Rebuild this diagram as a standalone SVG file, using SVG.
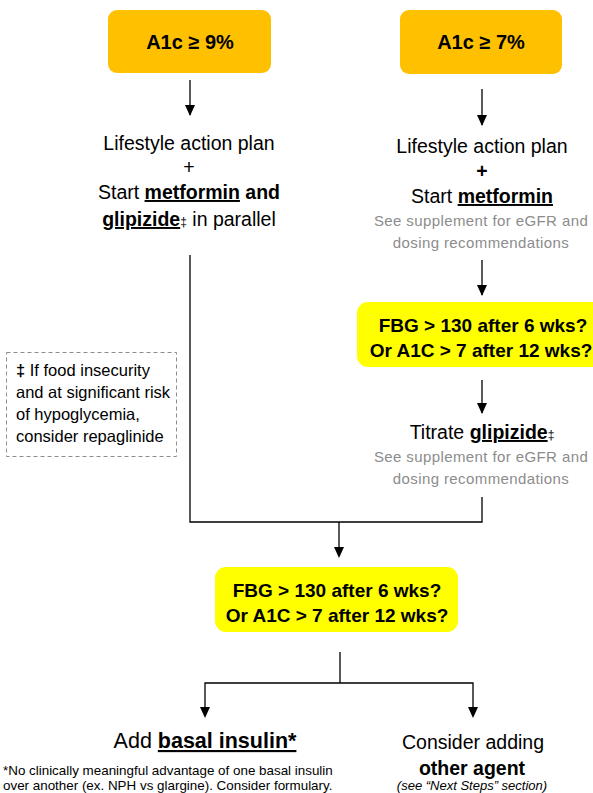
<svg xmlns="http://www.w3.org/2000/svg" width="593" height="793" viewBox="0 0 593 793">
<style>
text{font-family:"Liberation Sans",Arial,sans-serif;fill:#000}
.m{font-size:19.5px;text-anchor:middle}
.b{font-weight:bold}
.u{text-decoration:underline}
.g{font-size:15px;fill:#8c8c8c;text-anchor:middle;letter-spacing:0.4px}
.q{font-size:19px;font-weight:bold;text-anchor:middle}
.c{stroke:#000;stroke-width:1.3;fill:none}
.t{font-size:16.5px}
.n{font-size:13.4px}
</style>
<rect width="593" height="793" fill="#fff"/>
<g id="connectors">
<line class="c" x1="190" y1="80" x2="190" y2="115"/>
<path d="M185,105 L195,105 L190,116 Z"/>
<line class="c" x1="482" y1="89" x2="482" y2="125"/>
<path d="M477,115 L487,115 L482,126 Z"/>
<line class="c" x1="482" y1="260" x2="482" y2="295"/>
<path d="M477,285 L487,285 L482,296 Z"/>
<line class="c" x1="482" y1="380" x2="482" y2="413"/>
<path d="M477,403 L487,403 L482,414 Z"/>
<polyline class="c" points="190,255 190,522 482,522 482,497"/>
<line class="c" x1="339" y1="522" x2="339" y2="556"/>
<path d="M334,547 L344,547 L339,558 Z"/>
<line class="c" x1="340" y1="652" x2="340" y2="683"/>
<polyline class="c" points="205,716 205,683 473,683 473,716"/>
<path d="M200,707 L210,707 L205,718 Z"/>
<path d="M468,707 L478,707 L473,718 Z"/>
</g>
<g id="a1c9">
<rect x="108" y="10" width="163" height="63" rx="9" fill="#FFC000"/>
<text x="190" y="49" class="q" style="font-size:20px">A1c ≥  9%</text>
</g>
<g id="a1c7">
<rect x="400" y="10" width="162" height="64" rx="9" fill="#FFC000"/>
<text x="481" y="49" class="q" style="font-size:20px">A1c ≥  7%</text>
</g>
<g id="left-plan">
<text x="189" y="150" class="m">Lifestyle action plan</text>
<text x="189" y="174" class="m">+</text>
<text x="189" y="199" class="m">Start <tspan class="b u">metformin</tspan><tspan class="b"> and</tspan></text>
<text x="189" y="226" class="m"><tspan class="b u">glipizide</tspan><tspan style="font-size:12px">‡</tspan> in parallel</text>
</g>
<g id="right-plan">
<text x="482" y="153" class="m">Lifestyle action plan</text>
<text x="482" y="178" class="m b">+</text>
<text x="482" y="203" class="m">Start <tspan class="b u">metformin</tspan></text>
<text x="481" y="226" class="g">See supplement  for eGFR and</text>
<text x="481" y="248" class="g">dosing recommendations</text>
</g>
<g id="check1">
<rect x="357" y="302" width="250" height="65" rx="11" fill="#FFFF00"/>
<text x="483" y="332" class="q">FBG &gt; 130 after 6 wks?</text>
<text x="481" y="357" class="q">Or A1C &gt; 7 after 12 wks?</text>
</g>
<g id="titrate">
<text x="482" y="439" class="m">Titrate <tspan class="b u">glipizide</tspan><tspan style="font-size:12px">‡</tspan></text>
<text x="481" y="462" class="g">See supplement  for eGFR and</text>
<text x="481" y="484" class="g">dosing recommendations</text>
</g>
<g id="note">
<rect x="6.5" y="352.5" width="170" height="104" fill="none" stroke="#8c8c8c" stroke-width="1" stroke-dasharray="4,3"/>
<text x="16" y="376" class="t"><tspan font-weight="bold">‡</tspan> If food insecurity</text>
<text x="16" y="398" class="t">and at significant risk</text>
<text x="16" y="420" class="t">of hypoglycemia,</text>
<text x="16" y="442" class="t">consider repaglinide</text>
</g>
<g id="check2">
<rect x="215" y="567" width="243" height="65" rx="11" fill="#FFFF00"/>
<text x="337" y="597" class="q">FBG &gt; 130 after 6 wks?</text>
<text x="337" y="622" class="q">Or A1C &gt; 7 after 12 wks?</text>
</g>
<g id="basal">
<text x="205" y="748" class="m" style="font-size:21.5px">Add <tspan class="b u">basal insulin*</tspan></text>
<text x="3" y="775" class="n">*No clinically meaningful advantage of one basal insulin</text>
<text x="3" y="790" class="n">over another (ex. NPH vs glargine). Consider formulary.</text>
</g>
<g id="other">
<text x="473" y="749" class="m">Consider adding</text>
<text x="472" y="775" class="m b">other agent</text>
<text x="472" y="790" style="font-size:13px;font-style:italic;text-anchor:middle">(see  “Next Steps” section)</text>
</g>
</svg>
